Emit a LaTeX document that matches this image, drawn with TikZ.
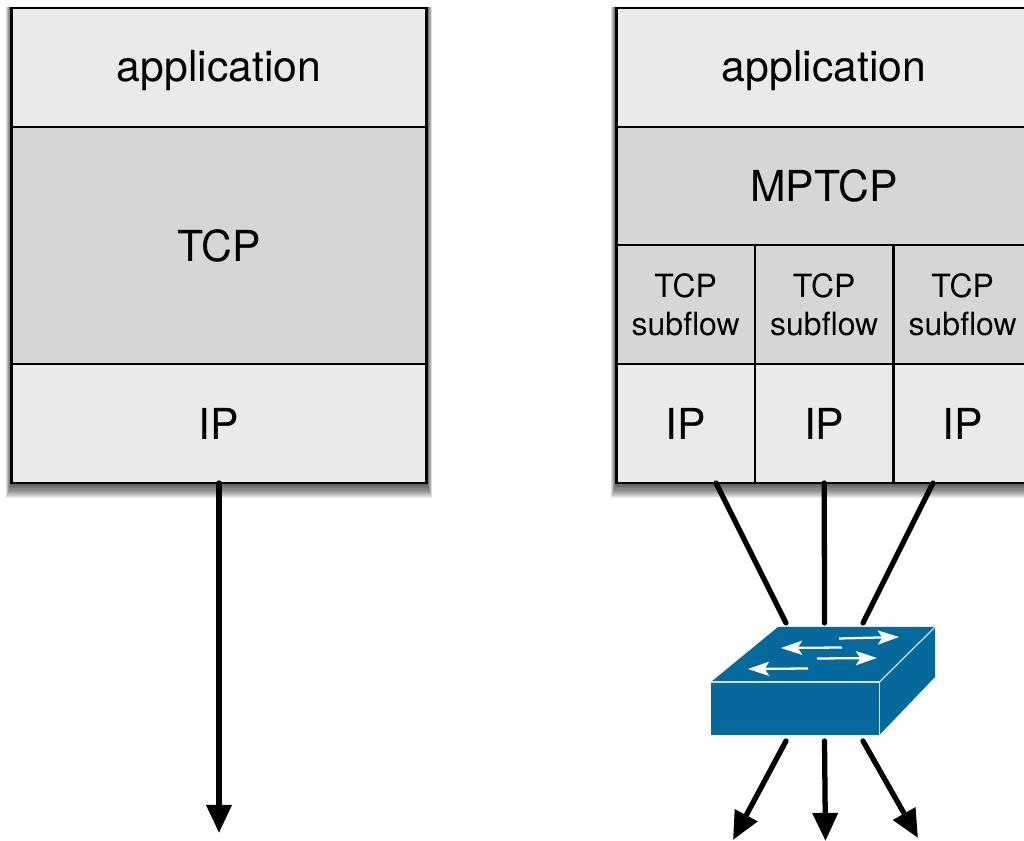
\documentclass[tikz,border=0pt]{standalone}
\usepackage{fontspec}
\setmainfont{TeX Gyre Heros}
\usetikzlibrary{arrows.meta,calc,positioning,backgrounds}
\definecolor{lightlayer}{HTML}{EAEAEA}
\definecolor{darklayer}{HTML}{D6D6D6}
\definecolor{switchblue}{HTML}{056A9B}
\tikzset{
  stackbox/.style={draw=black, line width=1.3pt, inner sep=0pt, outer sep=0pt, align=center,
    text depth=0pt, font=\fontsize{24.3}{29}\selectfont},
  lightbox/.style={stackbox, fill=lightlayer},
  darkbox/.style={stackbox, fill=darklayer},
  appbox/.style={lightbox, text depth=2pt, minimum width=8.3cm, minimum height=2.38cm},
  subbox/.style={darkbox, minimum width=2.77cm, minimum height=2.38cm,
    font=\fontsize{18.2}{22}\selectfont},
  ipbox/.style={lightbox, minimum width=2.77cm, minimum height=2.38cm},
  wire/.style={line width=3pt, line cap=round},
  flow/.style={wire, -{Triangle[width=14pt,length=16pt]}},
  swface/.style={fill=switchblue},
  swedge/.style={draw=white!80!switchblue, line width=0.7pt},
  swarrow/.style={draw=white, line width=1.3pt, -{Stealth[width=8pt,length=12pt,inset=2.5pt]}}
}
\begin{document}
\begin{tikzpicture}
        \useasboundingbox (0,0) rectangle (20.48,16.82);

        % plain TCP stack
        \node[appbox] (app1) at (4.38,15.47) {application};
        \node[darkbox, minimum width=8.3cm, minimum height=4.74cm, below = 0cm of app1] (tcp1) {TCP};
        \node[lightbox, minimum width=8.3cm, minimum height=2.38cm, below = 0cm of tcp1] (ip1) {IP};

        % MPTCP stack
        \node[appbox] (app2) at (16.48,15.47) {application};
        \node[darkbox, minimum width=8.3cm, minimum height=2.36cm, below = 0cm of app2] (mptcp) {MPTCP};
        \node[subbox, below right = 0cm and 0cm of mptcp.south west] (sub1) {TCP\\subflow};
        \node[subbox, right = 0cm of sub1] (sub2) {TCP\\subflow};
        \node[subbox, right = 0cm of sub2] (sub3) {TCP\\subflow};
        \node[ipbox, below = 0cm of sub1] (ip21) {IP};
        \node[ipbox, below = 0cm of sub2] (ip22) {IP};
        \node[ipbox, below = 0cm of sub3] (ip23) {IP};

        % soft shadows behind both stacks
        \begin{scope}[on background layer]
        \foreach \top/\bot in {app1/ip1, app2/ip23} {
            \foreach \s in {1,...,14} {
                \fill[black, opacity=0.07] ($(\top.north west)+(-0.008*\s,0.002*\s)$)
                    rectangle ($(\bot.south east)+(0.008*\s,-0.022*\s)$);
            }
        }
        \end{scope}

        % switch
        \coordinate (swfl) at (14.22,2.12);
        \coordinate (swfr) at (17.59,2.12);
        \coordinate (swtr) at (17.59,3.18);
        \coordinate (swtl) at (14.22,3.18);
        \coordinate (swbl) at (15.56,4.28);
        \coordinate (swbr) at (18.70,4.28);
        \coordinate (swsd) at (18.70,3.28);
        \fill[swface] (swfl) -- (swtl) -- (swbl) -- (swbr) -- (swsd) -- (swfr) -- cycle;
        \draw[swedge] (swtl) -- (swtr) -- (swfr);
        \draw[swedge] (swtr) -- (swbr);
        \draw[swarrow] (16.78,4.05) -- (17.98,4.08);
        \draw[swarrow] (16.84,3.87) -- (15.62,3.86);
        \draw[swarrow] (16.34,3.65) -- (17.54,3.66);
        \draw[swarrow] (16.16,3.45) -- (14.96,3.44);

        % free ends of the connectors
        \coordinate (in1) at (15.72,4.36);
        \coordinate (in2) at (16.49,4.36);
        \coordinate (in3) at (17.26,4.36);
        \coordinate (out1) at (15.72,2.00);
        \coordinate (out2) at (16.49,2.00);
        \coordinate (out3) at (17.26,2.00);
        \coordinate (end0) at (4.38,0.16);
        \coordinate (end1) at (14.66,0.02);
        \coordinate (end2) at (16.51,0.00);
        \coordinate (end3) at (18.36,0.06);
        \coordinate (top1) at (14.32,7.16);
        \coordinate (top3) at (18.66,7.16);

        \draw[flow] (ip1.south) -- (end0);
        \draw[wire] (top1) -- (in1);
        \draw[wire] (ip22.south) -- (in2);
        \draw[wire] (top3) -- (in3);
        \draw[flow] (out1) -- (end1);
        \draw[flow] (out2) -- (end2);
        \draw[flow] (out3) -- (end3);

        \end{tikzpicture}
\end{document}
